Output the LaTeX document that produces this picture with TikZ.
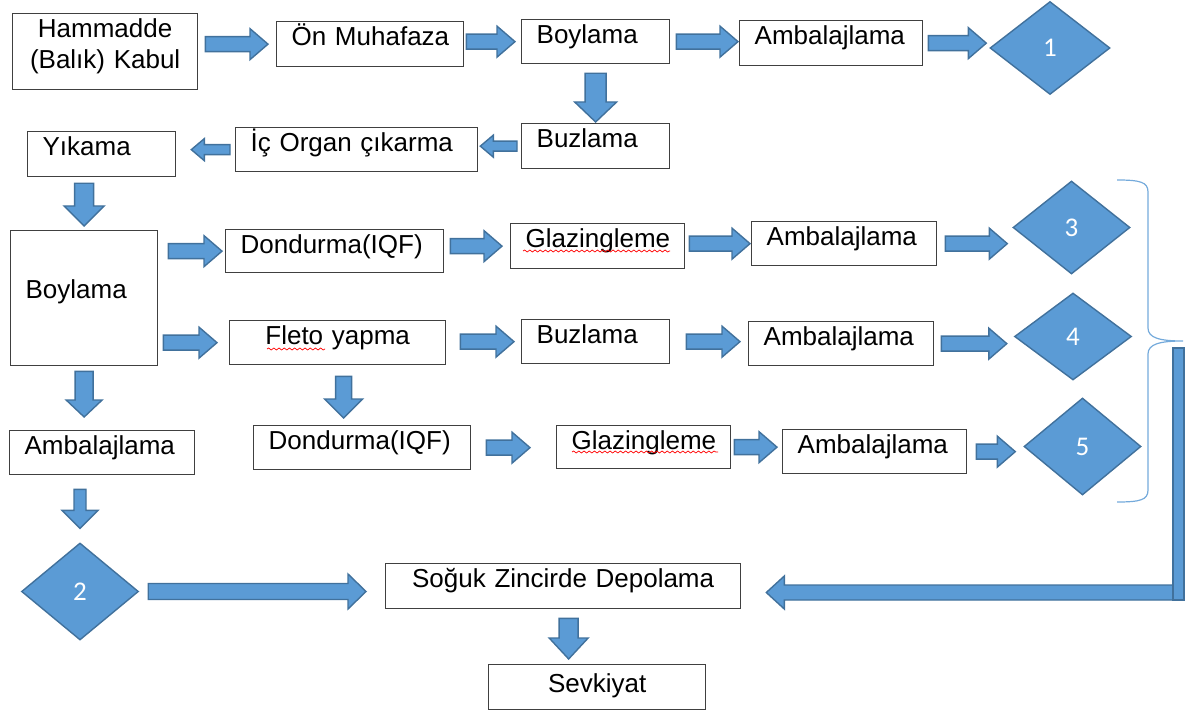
\documentclass[tikz,border=0pt]{standalone}
\usepackage{fontspec}
\setmainfont{Liberation Sans}
\newfontfamily\digitfont{Carlito}
\usetikzlibrary{calc,shapes.geometric,decorations.pathmorphing}
\definecolor{arrowfill}{HTML}{5B9BD5}
\definecolor{arrowline}{HTML}{41719C}
\definecolor{boxline}{HTML}{404040}
\hyphenpenalty=10000

\tikzset{
  box/.style={draw=boxline, line width=0.65pt, anchor=north west, align=left,
    inner xsep=7.5pt, inner ysep=0pt, text height=12pt, text depth=10pt,
    font={\fontsize{13}{15.5}\selectfont}},
  dia/.style={diamond, draw=arrowline, fill=arrowfill, line width=0.7pt, inner sep=0pt,
    minimum width=58.5pt, minimum height=46.5pt, text=white,
    font={\digitfont\fontsize{13.5}{15}\selectfont}},
  blockarrow/.style n args={3}{draw=arrowline, fill=arrowfill, line width=0.7pt,
    line join=miter,
    to path={let \p1=(\tikztostart), \p2=(\tikztotarget),
      \n1={atan2(\y2-\y1,\x2-\x1)}, \n2={veclen(\x2-\x1,\y2-\y1)-#3} in
      ($(\p1)+({\n1+90}:#1pt)$) -- ($(\p1)+(\n1:\n2)+({\n1+90}:#1pt)$)
      -- ($(\p1)+(\n1:\n2)+({\n1+90}:#2pt)$) -- (\p2)
      -- ($(\p1)+(\n1:\n2)+({\n1-90}:#2pt)$)
      -- ($(\p1)+(\n1:\n2)+({\n1-90}:#1pt)$)
      -- ($(\p1)+({\n1-90}:#1pt)$) -- cycle}},
  flow/.style={blockarrow={3.75}{7.75}{9}},
  bar/.style={draw=arrowline, fill=arrowfill, line width=0.7pt},
  brace/.style={draw=arrowfill!85, line width=0.6pt},
  squiggle/.style={draw=red, line width=0.35pt, decorate,
    decoration={snake, amplitude=0.5pt, segment length=2.6pt}},
}

\begin{document}
\begin{tikzpicture}[x=0.5pt, y=-0.5pt]
\useasboundingbox (0,0) rectangle (1193,711);

\node[box, align=center, text width=77.5pt, text depth=26pt] (ham) at (12,13) {Hammadde\\(Balık) Kabul};
\node[box, text width=78.5pt, text depth=10.5pt] (on) at (276,21) {\mbox{Ön Muhafaza}};
\node[box, text width=59pt] (boy1) at (521,19) {Boylama};
\node[box, text width=76.5pt, text depth=10.5pt] (amb1) at (739,20) {Ambalajlama};
\node[dia, minimum width=60pt] (d1) at (1050,48) {1};

\node[box, text width=59pt, text depth=10.5pt] (buz1) at (521,123) {Buzlama};
\node[box, text width=106pt] (ic) at (235,127) {\mbox{İç Organ çıkarma}};
\node[box, text width=59pt, text depth=10.5pt] (yik) at (27,131) {Yıkama};

\node[box, text width=58.5pt, text height=34pt, text depth=33.5pt] (boy2) at (10,230) {Boylama};
\node[box, text width=94pt, text depth=9.5pt] (don1) at (225,229) {Dondurma(IQF)};
\node[box, text width=72pt, text depth=10.5pt] (gla1) at (510,223) {Glazingleme};
\node[box, text width=77.5pt] (amb2) at (751,221) {Ambalajlama};
\node[dia] (d3) at (1071.5,227.5) {3};

\node[box, align=center, text width=93pt] (fle) at (229,320) {Fleto yapma};
\node[box, text width=59pt] (buz2) at (521,319) {Buzlama};
\node[box, text width=77.5pt] (amb3) at (748,321) {Ambalajlama};
\node[dia, minimum height=43.5pt] (d4) at (1073,336.5) {4};

\node[box, text width=93.5pt] (don2) at (253,425) {Dondurma(IQF)};
\node[box, text width=72pt, text depth=9.5pt] (gla2) at (556,425) {Glazingleme};
\node[box, text width=77pt] (amb4) at (782,429) {Ambalajlama};
\node[dia, minimum height=48.5pt] (d5) at (1082.5,446.5) {5};

\node[box, text width=77.5pt] (amb5) at (9,430) {Ambalajlama};
\node[dia, minimum height=48.5pt] (d2) at (80,591.5) {2};
\node[box, align=center, text width=162.5pt, text depth=10.5pt] (sog) at (385,563) {\mbox{Soğuk Zincirde Depolama}};
\node[box, align=center, text width=93.5pt, text height=14pt, text depth=8.5pt] (sev) at (488,664) {Sevkiyat};

\draw[flow] ($(ham.east |- on.west)+(3.5pt,0pt)$) to ([xshift=-4pt]on.west);
\draw[flow] ($(on.east |- boy1.west)+(1pt,0pt)$) to ([xshift=-3pt]boy1.west);
\draw[flow] ([xshift=3pt]boy1.east) to ($(amb1.west |- boy1.east)+(-0.5pt,0pt)$);
\draw[flow] ([xshift=2.5pt]amb1.east) to ($(d1.west |- amb1.east)+(-1.5pt,0pt)$);
\draw[blockarrow={5.25}{10.5}{10}] ([yshift=-4.5pt]boy1.south) to ($(boy1.south |- buz1.north)+(0pt,0.5pt)$);
\draw[blockarrow={2.5}{5.5}{6.5}] ([xshift=-2pt]buz1.west) to ($(ic.east |- buz1.west)+(1pt,0pt)$);
\draw[blockarrow={2.5}{5.5}{6.5}] ([xshift=-2.5pt]ic.west) to ($(yik.east |- ic.west)+(7.5pt,0pt)$);
\draw[blockarrow={4.75}{10}{10}] ($(boy2.north |- yik.south)+(0pt,-3pt)$) to ([yshift=2pt]boy2.north);

\draw[flow] ($(boy2.east |- don1.west)+(5pt,0pt)$) to ([xshift=-1.5pt]don1.west);
\draw[flow] ($(don1.east |- gla1.west)+(3pt,0pt)$) to ([xshift=-4pt]gla1.west);
\draw[flow] ($(gla1.east |- amb2.west)+(2pt,0pt)$) to ([xshift=-0.5pt]amb2.west);
\draw[flow] ([xshift=4pt]amb2.east) to ($(d3.west |- amb2.east)+(-2.5pt,0pt)$);

\draw[flow] ($(boy2.east |- fle.west)+(2.5pt,0pt)$) to ([xshift=-6pt]fle.west);
\draw[flow] ($(fle.east |- buz2.west)+(7pt,0pt)$) to ([xshift=-3.5pt]buz2.west);
\draw[flow] ([xshift=8pt]buz2.east) to ($(amb3.west |- buz2.east)+(-4pt,0pt)$);
\draw[flow] ([xshift=3.5pt]amb3.east) to ($(d4.west |- amb3.east)+(-3.5pt,0pt)$);
\draw[blockarrow={4}{9.5}{9.5}] ($(fle.south)+(3pt,-5.5pt)$) to ($(fle.south |- don2.north)+(3pt,3.5pt)$);

\draw[flow] ([xshift=7.5pt]don2.east) to ($(gla2.west |- don2.east)+(-13pt,0pt)$);
\draw[flow] ([xshift=1.5pt]gla2.east) to ($(amb4.west |- gla2.east)+(-2.5pt,0pt)$);
\draw[flow] ([xshift=4.5pt]amb4.east) to ($(d5.west |- amb4.east)+(-4pt,0pt)$);

\draw[blockarrow={4.5}{9}{8.5}] ([yshift=-2.5pt]boy2.south) to ($(boy2.south |- amb5.north)+(0pt,6.5pt)$);
\draw[blockarrow={3}{9}{9}] ($(d2.north |- amb5.south)+(0pt,-7pt)$) to ([yshift=7pt]d2.north);
\draw[blockarrow={4}{8.75}{9}] ([xshift=4.5pt]d2.east) to ($(sog.west |- d2.east)+(-9.5pt,0pt)$);
\draw[blockarrow={4.75}{9.75}{10.5}] ($(sog.south)+(2.75pt,-4.5pt)$) to ($(sog.south |- sev.north)+(2.75pt,2.5pt)$);

\coordinate (bend) at (1184,592.5);
\draw[blockarrow={3.75}{8.25}{9}] (bend) to ($(bend -| sog.east)+(12.5pt,0pt)$);
\draw[bar] (1173,348) rectangle (1184,600);

\draw[brace] (1117,180) .. controls (1140,180) and (1148,182) .. (1148,192) -- (1148,328)
  .. controls (1148,338) and (1160,341) .. (1183,341)
  .. controls (1160,341) and (1148,344) .. (1148,354) -- (1148,490)
  .. controls (1148,500) and (1140,502) .. (1117,502);

\draw[squiggle] (267,349) -- (325,349);
\draw[squiggle] (523,251) -- (670,251);
\draw[squiggle] (572,452) -- (718,452);
\end{tikzpicture}
\end{document}
